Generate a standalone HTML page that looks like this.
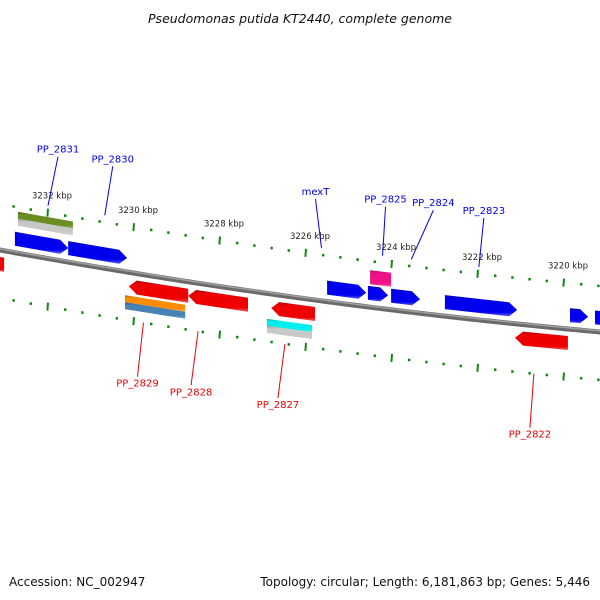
<!DOCTYPE html>
<html><head><meta charset="utf-8">
<style>
html,body{margin:0;padding:0;background:#fff;}
svg{display:block;font-family:"DejaVu Sans","Liberation Sans",sans-serif;}
</style></head>
<body>
<svg id="chart" width="600" height="600" viewBox="0 0 600 600" xmlns="http://www.w3.org/2000/svg">
<defs>
<linearGradient id="shade" x1="0" y1="0" x2="0" y2="1">
<stop offset="0" stop-color="#000" stop-opacity="0.25"/>
<stop offset="0.2" stop-color="#000" stop-opacity="0"/>
<stop offset="0.8" stop-color="#fff" stop-opacity="0"/>
<stop offset="1" stop-color="#fff" stop-opacity="0.35"/>
</linearGradient>
</defs>
<text x="300" y="23" text-anchor="middle" font-size="12.5" font-style="italic" fill="#111">Pseudomonas putida KT2440, complete genome</text>
<g id="ticks"></g>
<path id="backbone" fill="none" stroke="#6a6a6a" stroke-width="5"/>
<path id="backbone-hi" fill="none" stroke="#a0a0a0" stroke-width="1.5"/>
<g id="genes"></g>
<g id="labels"></g>
<text x="9" y="586" font-size="12" fill="#111">Accession: NC_002947</text>
<text x="590" y="586" text-anchor="end" font-size="12" fill="#111">Topology: circular; Length: 6,181,863 bp; Genes: 5,446</text>
</svg>
<script>
// ---- data ----
const majorTicks = [3232, 3230, 3228, 3226, 3224, 3222, 3220];
const tickLabels = ["3232 kbp","3230 kbp","3228 kbp","3226 kbp","3224 kbp","3222 kbp","3220 kbp"];
const geneNames  = ["PP_2831","PP_2830","mexT","PP_2825","PP_2824","PP_2823","g9","g10","pink","olive","olive-grey",
                    "red0","PP_2829","PP_2828","PP_2827","PP_2822","orange","steel","cyan","cyan-grey"];
const geneStart  = [3232.77,3231.53,3225.51,3224.56,3224.02,3222.77,3219.86,3219.28,3224.51,3232.70,3232.70,
                    3233.40,3230.12,3228.74,3226.81,3221.14,3230.21,3230.21,3226.91,3226.91];
const geneEnd    = [3231.53,3230.16,3224.60,3224.09,3223.35,3221.09,3219.44,3218.80,3224.02,3231.42,3231.42,
                    3233.02,3228.74,3227.35,3225.79,3219.91,3228.81,3228.81,3225.86,3225.86];
const geneStrand = [1,1,1,1,1,1,1,1,0,0,0, -1,-1,-1,-1,-1,0,0,0,0];
const geneOffset = [-14,-14,-14,-14,-14,-14,-14,-14,-30,-38,-31, 14,14,14,14,14,27,34,29,36];
const geneHeight = [14,14,14,14,14,14,14,14,14,7,7, 14,14,14,14,14,7,7,7,7];
const geneColor  = ["#0000ee","#0000ee","#0000ee","#0000ee","#0000ee","#0000ee","#0000ee","#0000ee","#ee1188","#6b8e23","#c8c8c8",
                    "#ee0000","#ee0000","#ee0000","#ee0000","#ee0000","#ff8c00","#4682b4","#00eeee","#c8c8c8"];
const labelText  = ["PP_2831","PP_2830","mexT","PP_2825","PP_2824","PP_2823","PP_2829","PP_2828","PP_2827","PP_2822"];
const labelKbp   = [3232.00,3230.68,3225.64,3224.22,3223.55,3221.98,3229.78,3228.51,3226.49,3220.70];
const labelSide  = [-1,-1,-1,-1,-1,-1,1,1,1,1];

// ---- axes ----
const xOf = k => 48 + (3232 - k) * 43;
const yOf = x => 250 + 0.1833 * x - 7.78e-5 * x * x;
const NS = "http://www.w3.org/2000/svg";
function mk(tag, attrs, parent){const e=document.createElementNS(NS,tag);for(const k in attrs)e.setAttribute(k,attrs[k]);parent.appendChild(e);return e;}

let d="";for(let x=-10;x<=610;x+=5)d+=(x===-10?"M":"L")+x+" "+yOf(x).toFixed(2);
document.getElementById("backbone").setAttribute("d",d);
document.getElementById("backbone-hi").setAttribute("d",d.replace(/ ([\d.]+)/g,(m,v)=>" "+(parseFloat(v)-1.2).toFixed(2)));

const tg=document.getElementById("ticks");
for(let k=3234;k>=3217.6;k-=0.4){
  const kk=Math.round(k*10)/10, x=xOf(kk);
  if(x<-5||x>605)continue;
  const major=Math.abs(kk/2-Math.round(kk/2))<1e-6;
  [-46,48].forEach(off=>{
    const y=yOf(x)+off;
    const t=mk("line",{x1:x,y1:y-(major?4:1.3),x2:x+(major?-0.6:0),y2:y+(major?4:1.3),stroke:"#118811","stroke-width":major?2:2.4},tg);
    
    
  });
}
majorTicks.forEach((k,i)=>{
  const x=xOf(k);
  const t=mk("text",{x:x+4,y:yOf(x)-60,"font-size":"8.5","text-anchor":"middle",fill:"#222"},tg);
  t.textContent=tickLabels[i];
  
  
});

const gg=document.getElementById("genes");
geneNames.forEach((n,i)=>{
  const x0=xOf(geneStart[i]), x1=xOf(geneEnd[i]), h=geneHeight[i], off=geneOffset[i];
  const top=x=>yOf(x)+off-h/2, bot=x=>yOf(x)+off+h/2;
  let pts=[];
  const head=8;
  if(geneStrand[i]===1){
    const xh=x1-head;
    pts=[[x0,top(x0)],[xh,top(xh)],[x1,(top(x1)+bot(x1))/2],[xh,bot(xh)],[x0,bot(x0)]];
  }else if(geneStrand[i]===-1){
    const xh=x0+head;
    pts=[[x0,(top(x0)+bot(x0))/2],[xh,top(xh)],[x1,top(x1)],[x1,bot(x1)],[xh,bot(xh)]];
  }else{
    pts=[[x0,top(x0)],[x1,top(x1)],[x1,bot(x1)],[x0,bot(x0)]];
  }
  const p=pts.map(q=>q[0].toFixed(1)+","+q[1].toFixed(1)).join(" ");
  const g=mk("g",{},gg);
  
  
  mk("polygon",{points:p,fill:geneColor[i]},g);
  mk("polygon",{points:p,fill:"url(#shade)"},g);
});

const lg=document.getElementById("labels");
const lblDX=[10,8,-6,3,22,5,-6,-7,-7,-4];
labelText.forEach((t,i)=>{
  const x=xOf(labelKbp[i]), s=labelSide[i];
  const by=yOf(x);
  const y1 = s<0 ? by-53 : by+48;
  const y2 = s<0 ? by-102 : by+102;
  const col = s<0 ? "#0000ee" : "#ee0000";
  const ln=mk("line",{x1:x,y1:y1,x2:x+lblDX[i],y2:y2,stroke:col,"stroke-width":1},lg);
  
  
  const tx=mk("text",{x:x+lblDX[i],y:s<0?y2-4:y2+10,"text-anchor":"middle","font-size":"10",fill:col},lg);
  tx.textContent=t;
  
  
});
</script>
</body></html>
